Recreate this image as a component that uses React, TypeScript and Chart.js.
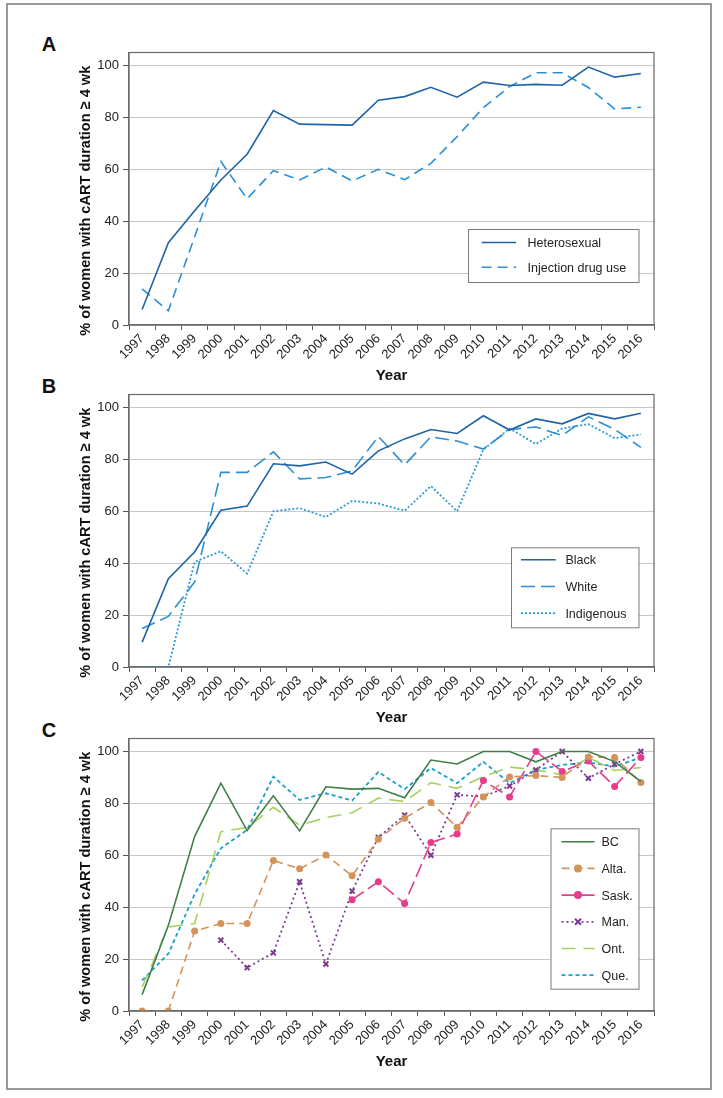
import React, { useEffect, useRef } from 'react';
import { Chart, registerables } from 'chart.js';

Chart.register(...registerables);

const years = ['1997', '1998', '1999', '2000', '2001', '2002', '2003', '2004', '2005', '2006', '2007', '2008', '2009', '2010', '2011', '2012', '2013', '2014', '2015', '2016'];
const yTicks = [0, 20, 40, 60, 80, 100];
const yTitle = '% of women with cART duration \u2265 4 wk';
const xTitle = 'Year';

// Panel A
const heterosexual = [6, 31.7, 44, 55.9, 65.8, 82.6, 77.4, 77.2, 77, 86.6, 88, 91.6, 87.8, 93.6, 92.3, 92.7, 92.4, 99.4, 95.5, 96.9];
const injectionDrugUse = [13.9, 5.5, 34, 63, 48.6, 59.5, 55.9, 60.9, 55.5, 60, 56, 62.3, 72.6, 83.8, 91.9, 97.2, 97.2, 91.5, 83.3, 83.9];

// Panel B
const black = [9.6, 34, 44.3, 60.4, 62, 78.3, 77.5, 79, 74.3, 83.3, 87.9, 91.5, 90, 96.8, 91.3, 95.6, 93.7, 97.7, 95.6, 97.8];
const white = [14.8, 19.5, 32.8, 75, 75, 82.9, 72.5, 73, 75.6, 88.8, 77.9, 88.7, 87.1, 84, 91.5, 92.5, 89.2, 96.4, 91.6, 84.6];
const indigenous = [0, 0, 40.5, 44.6, 36, 60, 61.2, 57.8, 64, 63, 60.2, 69.7, 60, 83.8, 91.9, 85.9, 91.9, 93.6, 88.2, 89.6];

// Panel C
const bc = [6.3, 33, 67.2, 87.8, 69.5, 82.9, 69.4, 86.4, 85.5, 85.8, 82.2, 96.7, 95.2, 100, 100, 96, 100, 100, 96.1, 88.4];
const alta = [0, 0, 30.8, 33.7, 33.7, 58, 54.8, 60.1, 52.1, 66.2, 74.3, 80.3, 70.8, 82.5, 90.2, 90.7, 90, 97.9, 97.7, 88];
const sask = [null, null, null, null, null, null, null, null, 42.9, 49.8, 41.4, 64.9, 68.2, 88.8, 82.5, 100, 92.3, 96.3, 86.5, 97.7];
const man = [null, null, null, 27.3, 16.7, 22.4, 49.8, 18.1, 46.2, 66.9, 75.5, 60, 83.3, 82.6, 86.7, 92.9, 100, 89.7, 95.1, 100];
const ont = [9.3, 32.4, 33.7, 69.1, 70.7, 78.5, 71.6, 74.5, 76.4, 82, 80.7, 88, 85.8, 90.3, 94, 92.9, 91, 97.7, 92.7, 93.8];
const que = [11.8, 22.1, 45, 62.7, 69.8, 90.3, 81.3, 83.9, 81.1, 92.1, 85.5, 93.6, 87.8, 96, 87.8, 92.9, 94.8, 95.8, 94.2, 97.7];

const FONT = "'Liberation Sans', Arial, sans-serif";

const CANVAS_LEFT = 60;
const CANVAS_W = 610;
const CANVAS_H = 349;

function line(label: string, data: (number | null)[], color: string, dash: number[], extra: any = {}) {
  return {
    label,
    data,
    borderColor: color,
    backgroundColor: color,
    borderWidth: 1.6,
    borderDash: dash,
    pointRadius: 0,
    tension: 0,
    spanGaps: false,
    ...extra,
  };
}

type LegendSpec = { right: number; top: number; width: number; height: number; firstRow: number; rowGap: number; sampleX: number; sampleLen: number; textX: number };

const panels = [
  {
    letter: 'A',
    top: 40,
    datasets: [
      line('Heterosexual', heterosexual, '#1f63a8', []),
      line('Injection drug use', injectionDrugUse, '#2b8fd6', [10, 6]),
    ],
    legend: { right: 15.5, top: 176.5, width: 170.5, height: 53, firstRow: 13.5, rowGap: 24.7, sampleX: 13.6, sampleLen: 34.5, textX: 59.5 } as LegendSpec,
  },
  {
    letter: 'B',
    top: 382,
    datasets: [
      line('Black', black, '#1f63a8', []),
      line('White', white, '#2b8fd6', [14, 6]),
      line('Indigenous', indigenous, '#2b9bd8', [2, 2], { borderWidth: 1.8 }),
    ],
    legend: { right: 15.5, top: 152.8, width: 127.5, height: 80, firstRow: 12.5, rowGap: 26.7, sampleX: 10, sampleLen: 34.7, textX: 54.4 } as LegendSpec,
  },
  {
    letter: 'C',
    top: 726,
    datasets: [
      line('BC', bc, '#3f7f45', []),
      line('Alta.', alta, '#d4935a', [8, 5], { pointRadius: 3.5, pointStyle: 'circle', pointBorderWidth: 0 }),
      line('Sask.', sask, '#e63c8c', [14, 5], { pointRadius: 3.5, pointStyle: 'circle', pointBorderWidth: 0 }),
      line('Man.', man, '#7d3c8f', [2, 3], { borderWidth: 1.8, pointRadius: 3.5, pointStyle: 'crossRot', pointBorderWidth: 2, pointBorderDash: [] }),
      line('Ont.', ont, '#a8d060', [14, 8]),
      line('Que.', que, '#1aa0cc', [4, 3], { borderWidth: 1.8 }),
    ],
    legend: { right: 15.5, top: 89.8, width: 88, height: 160.4, firstRow: 13.4, rowGap: 26.7, sampleX: 11, sampleLen: 33, textX: 51 } as LegendSpec,
  },
];

function makeFramePlugin(legend: LegendSpec) {
  return {
    id: 'frameAndLegend',
    afterDraw(chart: any) {
      const { ctx, chartArea } = chart;
      const { left, right, top, bottom } = chartArea;
      ctx.save();
      // plot frame
      ctx.strokeStyle = '#6a6a6a';
      ctx.lineWidth = 1.2;
      ctx.setLineDash([]);
      ctx.strokeRect(left, top, right - left, bottom - top);

      // y title (condensed bold, fitted to the reference length)
      ctx.fillStyle = '#111';
      ctx.font = `bold 15.5px ${FONT}`;
      ctx.textAlign = 'center';
      ctx.textBaseline = 'middle';
      const w = ctx.measureText(yTitle).width;
      const k = Math.min(1, 270 / w);
      ctx.translate(86 - CANVAS_LEFT, (top + bottom) / 2 + 12);
      ctx.rotate(-Math.PI / 2);
      ctx.scale(k, 1);
      ctx.fillText(yTitle, 0, 0);
      ctx.restore();

      // legend
      ctx.save();
      const lx = right - legend.right - legend.width;
      const ly = top + legend.top;
      ctx.fillStyle = '#ffffff';
      ctx.fillRect(lx, ly, legend.width, legend.height);
      ctx.strokeStyle = '#7a7a7a';
      ctx.lineWidth = 1;
      ctx.strokeRect(lx + 0.5, ly + 0.5, legend.width, legend.height);
      chart.data.datasets.forEach((ds: any, i: number) => {
        const cy = ly + legend.firstRow + i * legend.rowGap;
        const x0 = lx + legend.sampleX;
        const x1 = x0 + legend.sampleLen;
        ctx.strokeStyle = ds.borderColor;
        ctx.lineWidth = ds.borderWidth;
        ctx.setLineDash(ds.borderDash || []);
        ctx.beginPath();
        ctx.moveTo(x0, cy);
        ctx.lineTo(x1, cy);
        ctx.stroke();
        ctx.setLineDash([]);
        const mx = (x0 + x1) / 2;
        if (ds.pointRadius > 0 && ds.pointStyle === 'circle') {
          ctx.fillStyle = ds.borderColor;
          ctx.beginPath();
          ctx.arc(mx, cy, ds.pointRadius + 0.5, 0, Math.PI * 2);
          ctx.fill();
        } else if (ds.pointRadius > 0 && ds.pointStyle === 'crossRot') {
          const r = 3;
          ctx.lineWidth = 2;
          ctx.beginPath();
          ctx.moveTo(mx - r, cy - r);
          ctx.lineTo(mx + r, cy + r);
          ctx.moveTo(mx + r, cy - r);
          ctx.lineTo(mx - r, cy + r);
          ctx.stroke();
        }
        ctx.fillStyle = '#222';
        ctx.font = `12.5px ${FONT}`;
        ctx.textAlign = 'left';
        ctx.textBaseline = 'middle';
        ctx.fillText(ds.label, lx + legend.textX, cy + 1);
      });
      ctx.restore();
    },
  };
}

function Panel({ spec }: { spec: (typeof panels)[number] }) {
  const ref = useRef<HTMLCanvasElement | null>(null);
  useEffect(() => {
    if (!ref.current) return;
    const chart = new Chart(ref.current, {
      type: 'line',
      data: { labels: years, datasets: spec.datasets as any },
      options: {
        animation: false,
        responsive: false,
        devicePixelRatio: 1,
        layout: { padding: { top: 12.5, right: 16, left: 0, bottom: 0 } },
        plugins: { legend: { display: false }, tooltip: { enabled: false } },
        scales: {
          x: {
            type: 'category',
            offset: true,
            grid: { display: true, drawOnChartArea: false, offset: true, tickLength: 5, tickColor: '#555', color: '#555' },
            border: { display: true, color: '#6a6a6a', width: 1.2 },
            ticks: { autoSkip: false, minRotation: 45, maxRotation: 45, padding: 1, color: '#222', font: { family: FONT, size: 13 } },
            title: { display: true, text: xTitle, color: '#111', font: { family: FONT, size: 15, weight: 'bold' }, padding: { top: 0, bottom: 4 } },
            afterFit: (scale: any) => { scale.height = 64; },
          },
          y: {
            type: 'linear',
            min: 0,
            max: 105,
            grid: { color: '#c8c8c8', lineWidth: 1, tickLength: 6, tickColor: '#555' },
            border: { display: true, color: '#6a6a6a', width: 1.2 },
            ticks: {
              stepSize: 20,
              includeBounds: false,
              padding: 4,
              color: '#222',
              font: { family: FONT, size: 13 },
              callback: (v: any) => (yTicks.includes(Number(v)) ? String(v) : ''),
            },
            afterFit: (scale: any) => { scale.width = 129 - CANVAS_LEFT; },
          },
        },
      },
      plugins: [makeFramePlugin(spec.legend)],
    } as any);
    return () => chart.destroy();
  }, [spec]);
  return (
    <>
      <div
        style={{
          position: 'absolute',
          left: 40,
          top: spec.top - 6,
          width: 18,
          textAlign: 'center',
          font: `bold 20px ${FONT}`,
          lineHeight: '20px',
          color: '#111',
        }}
      >
        {spec.letter}
      </div>
      <canvas
        ref={ref}
        width={CANVAS_W}
        height={CANVAS_H}
        style={{ position: 'absolute', left: CANVAS_LEFT, top: spec.top, width: CANVAS_W, height: CANVAS_H }}
      />
    </>
  );
}

export default function App() {
  return (
    <div style={{ position: 'absolute', left: 0, top: 0, width: 723, height: 1098, background: '#fff' }}>
      <div
        style={{
          position: 'absolute',
          left: 6,
          top: 3,
          width: 706,
          height: 1087,
          border: '2px solid #9a9a9a',
          boxSizing: 'border-box',
        }}
      />
      {panels.map((p) => (
        <Panel key={p.letter} spec={p} />
      ))}
    </div>
  );
}
